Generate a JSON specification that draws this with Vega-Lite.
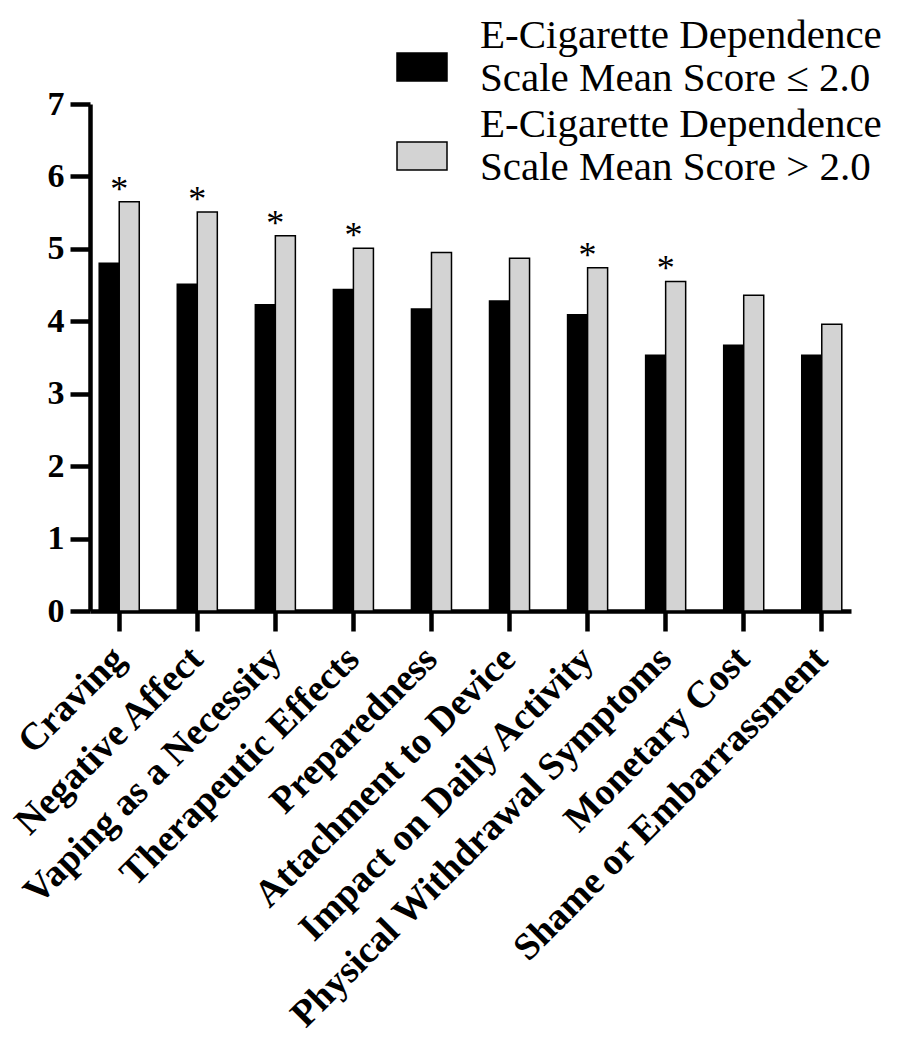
{
  "$schema": "https://vega.github.io/schema/vega-lite/v6.json",
  "width": 761,
  "height": 507,
  "autosize": "none",
  "padding": {"left": 90, "top": 104, "right": 52, "bottom": 439},
  "background": "white",
  "config": {"view": {"stroke": null}, "font": "Liberation Serif"},
  "data": {
    "values": [
      {"category": "Craving", "group": "≤ 2.0", "value": 4.80, "sig": ""},
      {"category": "Craving", "group": "> 2.0", "value": 5.65, "sig": "*"},
      {"category": "Negative Affect", "group": "≤ 2.0", "value": 4.51, "sig": ""},
      {"category": "Negative Affect", "group": "> 2.0", "value": 5.51, "sig": "*"},
      {"category": "Vaping as a Necessity", "group": "≤ 2.0", "value": 4.23, "sig": ""},
      {"category": "Vaping as a Necessity", "group": "> 2.0", "value": 5.18, "sig": "*"},
      {"category": "Therapeutic Effects", "group": "≤ 2.0", "value": 4.44, "sig": ""},
      {"category": "Therapeutic Effects", "group": "> 2.0", "value": 5.01, "sig": "*"},
      {"category": "Preparedness", "group": "≤ 2.0", "value": 4.17, "sig": ""},
      {"category": "Preparedness", "group": "> 2.0", "value": 4.95, "sig": ""},
      {"category": "Attachment to Device", "group": "≤ 2.0", "value": 4.28, "sig": ""},
      {"category": "Attachment to Device", "group": "> 2.0", "value": 4.87, "sig": ""},
      {"category": "Impact on Daily Activity", "group": "≤ 2.0", "value": 4.09, "sig": ""},
      {"category": "Impact on Daily Activity", "group": "> 2.0", "value": 4.74, "sig": "*"},
      {"category": "Physical Withdrawal Symptoms", "group": "≤ 2.0", "value": 3.53, "sig": ""},
      {"category": "Physical Withdrawal Symptoms", "group": "> 2.0", "value": 4.55, "sig": "*"},
      {"category": "Monetary Cost", "group": "≤ 2.0", "value": 3.67, "sig": ""},
      {"category": "Monetary Cost", "group": "> 2.0", "value": 4.36, "sig": ""},
      {"category": "Shame or Embarrassment", "group": "≤ 2.0", "value": 3.53, "sig": ""},
      {"category": "Shame or Embarrassment", "group": "> 2.0", "value": 3.96, "sig": ""}
    ]
  },
  "encoding": {
    "x": {
      "field": "category",
      "type": "nominal",
      "sort": null,
      "scale": {"paddingInner": 0.487, "paddingOuter": 0.118},
      "axis": {
        "title": null,
        "labelAngle": -45,
        "labelAlign": "right",
        "labelBaseline": "middle",
        "labelFontSize": 38,
        "labelFontWeight": "bold",
        "labelColor": "black",
        "labelPadding": 22,
        "labelLimit": 0,
        "tickSize": 20,
        "tickWidth": 4.5,
        "tickColor": "black",
        "domainWidth": 4.5,
        "domainColor": "black",
        "grid": false
      }
    }
  },
  "layer": [
    {
      "mark": {"type": "bar", "stroke": "black", "strokeWidth": 1.5},
      "encoding": {
        "xOffset": {"field": "group", "type": "nominal", "sort": null, "scale": {"domain": ["≤ 2.0", "> 2.0"], "paddingInner": 0, "paddingOuter": 0}},
        "y": {
          "field": "value",
          "type": "quantitative",
          "scale": {"domain": [0, 7], "nice": false, "zero": true},
          "axis": {
            "title": null,
            "values": [0, 1, 2, 3, 4, 5, 6, 7],
            "format": "d",
            "labelFontSize": 34,
            "labelFontWeight": "bold",
            "labelColor": "black",
            "labelPadding": 6,
            "tickSize": 20,
            "tickWidth": 4.5,
            "tickColor": "black",
            "domainWidth": 4.5,
            "domainColor": "black",
            "grid": false
          }
        },
        "fill": {
          "field": "group",
          "type": "nominal",
          "sort": null,
          "scale": {"domain": ["≤ 2.0", "> 2.0"], "range": ["#000000", "#d3d3d3"]},
          "legend": {
            "title": null,
            "orient": "none",
            "legendX": 306,
            "legendY": -94,
            "symbolType": "M-1,0.68H1V1.8H-1Z",
            "symbolSize": 2500,
            "symbolStrokeColor": "black",
            "symbolStrokeWidth": 1.5,
            "symbolOpacity": 1,
            "labelFont": "Liberation Serif",
            "labelFontSize": 41,
            "labelColor": "black",
            "labelExpr": "['E-Cigarette Dependence', 'Scale Mean Score ' + datum.label]",
            "labelOffset": 32,
            "labelLimit": 0,
            "rowPadding": 0
          }
        }
      }
    },
    {
      "transform": [{"filter": "datum.sig == '*'"}],
      "mark": {"type": "text", "baseline": "alphabetic", "align": "center", "fontSize": 36, "font": "Liberation Serif", "color": "black", "dy": -1},
      "encoding": {
        "y": {"field": "value", "type": "quantitative"},
        "text": {"field": "sig"}
      }
    }
  ]
}
